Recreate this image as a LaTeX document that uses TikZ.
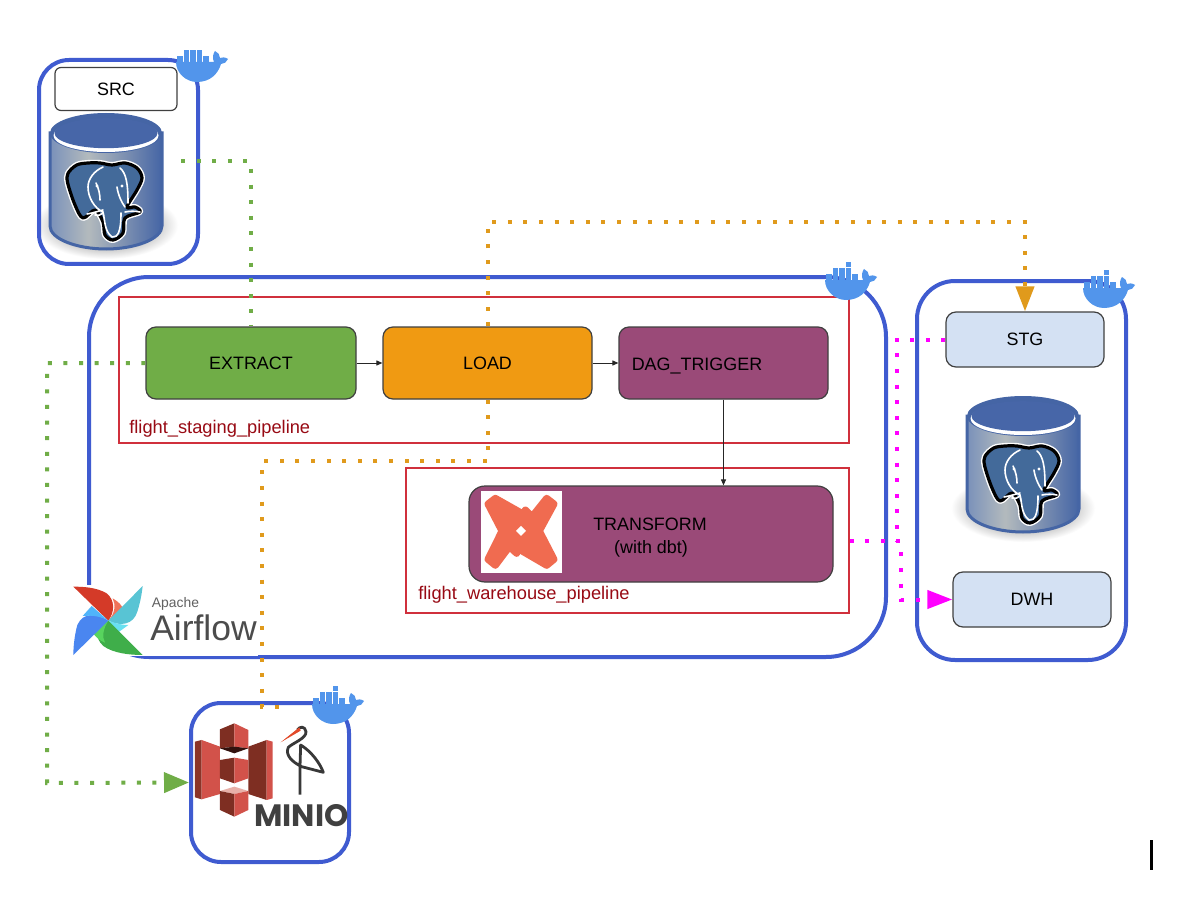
\documentclass[tikz,border=0pt]{standalone}
\usepackage{fontspec}
\setmainfont{Liberation Sans}
\newfontfamily\miniofont{Poppins}
\usetikzlibrary{arrows.meta}
\newlength\pxu
\setlength\pxu{0.02cm}
\definecolor{frameblue}{HTML}{3F5BD0}
\definecolor{redframe}{HTML}{D0303C}
\definecolor{redlabel}{HTML}{980A14}
\definecolor{extgreen}{HTML}{70AD47}
\definecolor{loadorange}{HTML}{F09A12}
\definecolor{arroworange}{HTML}{E09A1C}
\definecolor{plum}{HTML}{9A4A78}
\definecolor{paleblue}{HTML}{D4E1F3}
\definecolor{whaleblue}{HTML}{5295EB}
\definecolor{dbmid}{HTML}{B3BABD}
\definecolor{dbleft}{HTML}{7A91BA}
\definecolor{dbright}{HTML}{4565A5}
\definecolor{dbtop}{HTML}{4766A8}
\definecolor{elephant}{HTML}{436A9A}
\definecolor{dbtorange}{HTML}{F06B50}
\definecolor{bucketlight}{HTML}{D2524A}
\definecolor{bucketdark}{HTML}{7E2E22}
\definecolor{bucketpale}{HTML}{E8B0A8}
\definecolor{beakred}{HTML}{E24A2A}
\definecolor{afred}{HTML}{D43A28}
\definecolor{afcoral}{HTML}{F0735A}
\definecolor{afteal}{HTML}{58C4D4}
\definecolor{afcyan}{HTML}{68E0F0}
\definecolor{afgreen}{HTML}{3FAE4A}
\definecolor{aflime}{HTML}{58D45E}
\definecolor{afblue}{HTML}{4A86F0}
\definecolor{afsky}{HTML}{50B4FA}
\definecolor{puremagenta}{RGB}{255,0,255}
\pgfdeclarehorizontalshading{cylshade}{100bp}{color(0bp)=(dbleft); color(25bp)=(dbleft); color(42bp)=(dbmid); color(75bp)=(dbright); color(100bp)=(dbright)}
\tikzset{
  x=0.02cm,y=-0.02cm,
  container/.style={draw=frameblue,line width=4\pxu,rectangle,inner sep=0pt},
  flowbox/.style={draw=black!75,line width=1.2\pxu,rectangle,rounded corners=10\pxu,inner sep=0pt,
     font=\fontsize{10.2}{13}\selectfont},
  redbox/.style={draw=redframe,line width=1.2\pxu,rectangle,inner sep=0pt},
  pipelabel/.style={text=redlabel,anchor=west,inner sep=0pt,font=\fontsize{10.4}{12}\selectfont},
  plain/.style={inner sep=0pt,font=\fontsize{10.2}{13}\selectfont,align=center},
  dotline/.style={line width=0.08cm,dash pattern=on 0.08cm off 0.232cm},
  thinarrow/.style={draw=black!85,line width=0.02cm,-{Triangle[length=0.12cm,width=0.1cm]}},
  whale/.pic={
    \fill[whaleblue] (2,13) .. controls (2,24) and (12,33) .. (23,33)
      .. controls (36,33) and (44,25) .. (47,15) .. controls (50,15) and (53,13) .. (54,10)
      .. controls (51,8) and (48,8) .. (46,9) .. controls (46,6) and (44,3) .. (41,2)
      .. controls (39,5) and (38,9) .. (40,13) -- cycle;
    \foreach \cx in {3,9.5,16,22.5,29}{\fill[whaleblue] (\cx,7.4) rectangle ++(5.5,5.5);}
    \foreach \cx in {9.5,16,22.5}{\fill[whaleblue] (\cx,1.2) rectangle ++(5.5,5.4);}
  },
  whaletop/.pic={
    \pic {whale};
    \fill[whaleblue] (22.5,-5) rectangle ++(5.5,5.4);
  },
  pgdb/.pic={
    \shade[inner color=black!70,outer color=white,draw=none] (56,112) ellipse (72 and 34);
    \path[shading=cylshade,draw=dbright,line width=3\pxu]
      (0,20) -- (0,113) .. controls (0,126) and (27,136) .. (56,136)
      .. controls (85,136) and (112,126) .. (112,113) -- (112,20) -- cycle;
    \fill[dbright] (56,20) ellipse (56 and 20);
    \fill[white] (56,22.5) ellipse (52.5 and 16.5);
    \fill[dbtop] (56,20.2) ellipse (51.5 and 15);
    \draw[white,line width=6\pxu,line join=round]
      plot[smooth cycle,tension=0.55] coordinates {(26.7,52) (18,60.3) (17.7,70) (25,92) (33,105) (45,97) (53,109) (55,122) (63,127) (73,120) (75,105) (90,99) (85,94) (77,94) (87,77) (92,65) (87,55) (75,50) (62,52) (50,50) (38,50)};
    \draw[fill=elephant,draw=black,line width=3.2\pxu,line join=round]
      plot[smooth cycle,tension=0.55] coordinates {(26.7,52) (18,60.3) (17.7,70) (25,92) (33,105) (45,97) (53,109) (55,122) (63,127) (73,120) (75,105) (90,99) (85,94) (77,94) (87,77) (92,65) (87,55) (75,50) (62,52) (50,50) (38,50)};
    \draw[white,line width=1.6\pxu,line cap=round]
      (53,54) .. controls (44,58) and (38,66) .. (38,74) .. controls (38,84) and (44,95) .. (53,99)
      .. controls (55,106) and (54,118) .. (62,124) .. controls (68,125) and (71,118) .. (71,100)
      (70,55) .. controls (76,60) and (78,70) .. (78,90)
      (46,70) .. controls (49,76) and (50,82) .. (50,87)
      (67,74) .. controls (68,82) and (72,90) .. (75,94)
      (37,101) .. controls (43,100) and (49,98) .. (53,97)
      (45,102) .. controls (48,103) and (51,102) .. (53,100)
      (75,99) .. controls (80,98) and (85,98) .. (90,99);
    \fill[white] (47,73) circle (1.7) (72,73) circle (1.7);
  },
}
\begin{document}
\begin{tikzpicture}
\useasboundingbox (0,0) rectangle (1200,902);
\fill[white] (0,0) rectangle (1200,902);

% databases
\pic at (50,113) {pgdb};
\pic at (967,396) {pgdb};

% containers
\node[container,rounded corners=30\pxu,minimum width=159\pxu,minimum height=204\pxu] (srcbox) at (118.5,162) {};
\node[container,rounded corners=60\pxu,minimum width=797\pxu,minimum height=380\pxu] (airbox) at (487.5,467) {};
\node[container,rounded corners=38\pxu,minimum width=209\pxu,minimum height=379\pxu] (dwbox) at (1021.5,470.5) {};
\node[container,rounded corners=30\pxu,minimum width=158\pxu,minimum height=159\pxu] (miniobox) at (270,782.5) {};

% airflow logo area
\fill[white] (71,585) rectangle (258,656);

% pipeline frames
\node[redbox,minimum width=730\pxu,minimum height=146\pxu] (stagingframe) at (484,370) {};
\node[redbox,minimum width=443\pxu,minimum height=145\pxu] (warehouseframe) at (627.5,540.5) {};
\node[pipelabel] (staginglabel) at (129,429) {flight\_staging\_pipeline};
\node[pipelabel] (warehouselabel) at (418,595) {flight\_warehouse\_pipeline};

% process boxes
\node[flowbox,fill=extgreen,minimum width=210\pxu,minimum height=72\pxu] (ext) at (251,363) {EXTRACT};
\node[flowbox,fill=loadorange,minimum width=209\pxu,minimum height=72\pxu] (load) at (487.5,363) {LOAD};
\node[flowbox,fill=plum,minimum width=209\pxu,minimum height=72\pxu] (dag) at (723.5,363) {};
\node[plain] (dagtext) at (697,366) {DAG\_TRIGGER};
\node[flowbox,fill=plum,rounded corners=16\pxu,minimum width=364\pxu,minimum height=96\pxu] (trf) at (651,534) {};
\node[plain] (trftext) at (650,538) {TRANSFORM\\\hspace*{2\pxu}(with dbt)};

% dbt logo
\begin{scope}[shift={(400,460)},x=0.02cm/3,y=-0.02cm/3]
  \fill[white] (242,93) rectangle (487,338);
  \draw[fill=dbtorange,draw=dbtorange,line width=7\pxu,line join=round]
    (264,132) -- (286,115) -- (380,168) -- (376,150) -- (396,170) -- (440,115) -- (462,132)
    -- (418,213) -- (462,298) -- (440,316) -- (344,260) -- (350,280) -- (328,260) -- (286,316)
    -- (264,298) -- (306,213) -- cycle;
  \fill[white] (363,198) -- (378,213) -- (363,228) -- (348,213) -- cycle;
\end{scope}

% storage boxes
\node[flowbox,fill=paleblue,minimum width=158\pxu,minimum height=55\pxu] (stg) at (1025,339.5) {STG};
\node[flowbox,fill=paleblue,minimum width=158\pxu,minimum height=55\pxu] (dwh) at (1032,599.5) {DWH};
\node[flowbox,fill=white,rounded corners=6\pxu,minimum width=122\pxu,minimum height=43\pxu] (src) at (116,89) {SRC};

% airflow logo
\begin{scope}[shift={(40,570)},x=0.02cm/3,y=-0.02cm/3]
  \fill[afred] (205,152) .. controls (225,125) and (225,90) .. (200,70) .. controls (170,52) and (130,50) .. (100,50) -- cycle;
  \fill[afcoral] (205,152) .. controls (225,130) and (228,105) .. (218,85) .. controls (235,95) and (245,105) .. (248,115) -- cycle;
  \fill[afteal] (205,152) .. controls (240,170) and (280,165) .. (292,125) .. controls (300,100) and (305,75) .. (308,48) -- cycle;
  \fill[afcyan] (205,152) .. controls (225,160) and (245,165) .. (265,165) -- (235,187) -- cycle;
  \fill[afgreen] (205,152) .. controls (170,170) and (160,200) .. (190,228) .. controls (220,250) and (270,255) .. (308,255) -- cycle;
  \fill[aflime] (205,152) .. controls (190,175) and (185,200) .. (195,218) .. controls (175,210) and (165,198) .. (160,190) -- cycle;
  \fill[afblue] (205,152) .. controls (170,130) and (130,125) .. (112,165) .. controls (105,190) and (100,225) .. (100,255) -- cycle;
  \fill[afsky] (205,152) .. controls (185,140) and (160,135) .. (128,138) -- (155,108) -- cycle;
\end{scope}
\node[inner sep=0pt,text=black!62,font=\fontsize{7.9}{9}\selectfont,anchor=center] (apachetext) at (175.5,604) {Apache};
\node[inner sep=0pt,text=black!70,font=\fontsize{20.2}{22}\selectfont,anchor=center] (airflowtext) at (203.5,628) {Airflow};

% S3 bucket and MinIO bird
\begin{scope}[shift={(40,570)},x=0.02cm/3,y=-0.02cm/3]
  \fill[bucketdark!85!bucketlight] (465,515) -- (485,510) -- (485,688) -- (465,682) -- cycle;
  \fill[bucketlight] (485,510) -- (540,530) -- (540,672) -- (485,688) -- cycle;
  \fill[bucketdark] (625,530) -- (680,510) -- (680,690) -- (625,672) -- cycle;
  \fill[bucketlight] (680,510) -- (698,515) -- (698,685) -- (680,690) -- cycle;
  \fill[bucketdark] (540,478) -- (583,460) -- (583,530) -- (540,535) -- cycle;
  \fill[bucketlight] (583,460) -- (625,480) -- (625,535) -- (583,530) -- cycle;
  \fill[black!60!bucketdark] (540,535) -- (583,530) -- (625,535) -- (583,550) -- cycle;
  \fill[bucketdark] (540,570) -- (583,563) -- (583,640) -- (540,625) -- cycle;
  \fill[bucketlight] (583,563) -- (625,570) -- (625,625) -- (583,640) -- cycle;
  \fill[bucketpale] (540,663) -- (583,650) -- (625,663) -- (583,672) -- cycle;
  \fill[bucketdark] (540,663) -- (583,672) -- (583,740) -- (540,720) -- cycle;
  \fill[bucketlight] (583,672) -- (625,663) -- (625,720) -- (583,740) -- cycle;
  \draw[black!78,line width=2.8\pxu,line join=round]
    (780,674) -- (780,590) -- (782,525) .. controls (815,545) and (840,580) .. (850,607) -- (785,590)
    .. controls (755,575) and (735,555) .. (745,532) .. controls (760,518) and (800,505) .. (798,485)
    .. controls (795,468) and (780,468) .. (772,480);
  \fill[beakred] (722,517) -- (778,472) -- (782,482) -- cycle;
\end{scope}
\node[inner sep=0pt,text=black!75,font=\miniofont\bfseries\fontsize{17.6}{19}\selectfont] (miniotext) at (301.5,816) {MINIO};

% solid connectors
\draw[thinarrow] (ext.east) -- (load.west);
\draw[thinarrow] (load.east) -- (dag.west);
\draw[thinarrow] (dag.south) -- (dag.south |- trf.north);

% dotted connectors
\coordinate (srcout) at (181,161);
\coordinate (gA) at (47,783);
\coordinate (oT) at (1025,222);
\coordinate (oA) at (262,461);
\coordinate (oB) at (285,707);
\coordinate (mgA) at (897,541);
\coordinate (mgB) at (900.5,541);
\draw[extgreen,dotline] (srcout) -| (ext.north);
\draw[extgreen,dotline,-{Triangle[length=0.5cm,width=0.4cm,fill=extgreen]}] (ext.west) -| (gA) -- (miniobox.west);
\draw[arroworange,dotline,-{Triangle[length=0.5cm,width=0.36cm,fill=arroworange]}] (load.north) |- (oT) -- (stg.north);
\draw[arroworange,dotline] (load.south) |- (oA) |- (oB);
\draw[puremagenta,dotline] (stg.west) -| (mgA);
\draw[puremagenta,dotline,shorten <=0.32cm,-{Triangle[length=0.5cm,width=0.36cm,fill=puremagenta]}] (trf.east |- mgB) -- (mgB) |- (dwh.west);

% docker logos
\begin{scope}[shift={(174,49)},scale=1.02] \pic {whale}; \end{scope}
\begin{scope}[shift={(823,267)},scale=1.05] \pic {whaletop}; \end{scope}
\begin{scope}[shift={(1081,275)},scale=1.05] \pic {whaletop}; \end{scope}
\begin{scope}[shift={(310,691)},scale=1.05] \pic {whaletop}; \end{scope}

% cursor mark
\fill[black] (1150,840) rectangle (1153,870);
\end{tikzpicture}
\end{document}
